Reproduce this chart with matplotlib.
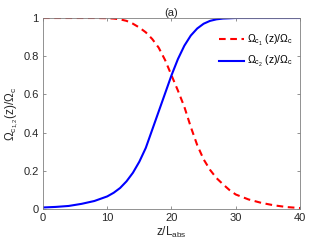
import numpy as np
import matplotlib
matplotlib.use('Agg')
import matplotlib.pyplot as plt

plt.rcParams['font.family'] = ['Liberation Sans', 'DejaVu Sans']
plt.rcParams['mathtext.fontset'] = 'custom'
plt.rcParams['mathtext.rm'] = 'Liberation Sans'
plt.rcParams['mathtext.it'] = 'Liberation Sans'

# Значения
z_c1 = [0, 8, 10, 11, 12, 13, 14, 15, 16, 17, 18, 19, 20, 21, 22, 23, 24,
        25, 26, 27, 28, 29, 30, 32, 34, 36, 38, 40]
omega_c1 = [1.0, 1.0, 0.999, 0.997, 0.993, 0.985, 0.97, 0.95, 0.925, 0.89,
            0.845, 0.78, 0.70, 0.62, 0.535, 0.43, 0.335, 0.26, 0.205, 0.162,
            0.13, 0.10, 0.076, 0.05, 0.032, 0.019, 0.01, 0.005]

z_c2 = [0, 2, 4, 6, 8, 10, 11, 12, 13, 14, 15, 16, 17, 18, 19, 20, 21, 22,
        23, 24, 25, 26, 27, 28, 30, 35, 40]
omega_c2 = [0.008, 0.011, 0.016, 0.027, 0.042, 0.066, 0.085, 0.11, 0.145,
            0.19, 0.248, 0.32, 0.415, 0.51, 0.605, 0.70, 0.785, 0.855, 0.908,
            0.945, 0.97, 0.985, 0.993, 0.997, 1.0, 1.0, 1.0]

x_ticks = [0, 10, 20, 30, 40]
y_ticks = [0, 0.2, 0.4, 0.6, 0.8, 1]
y_tick_labels = ['0', '0.2', '0.4', '0.6', '0.8', '1']

fig = plt.figure(figsize=(3.32, 2.49), dpi=100)
ax = fig.add_axes([0.1295, 0.1606, 0.7741, 0.7671])

ax.plot(z_c1, omega_c1, color='#ff0000', linestyle=(0, (3.2, 2.2)),
        linewidth=1.5, label=r'$\Omega_{c_1}$ (z)/$\Omega_c$')
ax.plot(z_c2, omega_c2, color='#0000ff', linestyle='-',
        linewidth=1.5, label=r'$\Omega_{c_2}$ (z)/$\Omega_c$')

ax.set_xlim(0, 40)
ax.set_ylim(0, 1)
ax.set_xticks(x_ticks)
ax.set_yticks(y_ticks)
ax.set_yticklabels(y_tick_labels)

for s in ax.spines.values():
    s.set_color('#808080')
    s.set_linewidth(0.6)
ax.tick_params(direction='in', top=True, right=True, length=2.5, width=0.6,
               color='#808080', labelsize=8, labelcolor='#262626', pad=3)

ax.set_xlabel(r'z/L$_{\mathrm{abs}}$', fontsize=8.5, color='#262626', labelpad=1)
ax.set_ylabel(r'$\Omega_{c_{1,2}}$(z)/$\Omega_c$', fontsize=8.5, color='#262626',
              labelpad=2)
ax.set_title('(a)', fontsize=8, color='#262626', pad=1.5)

ax.legend(loc='upper right', frameon=False, fontsize=7.5, handlelength=2.4,
          handletextpad=0.3, borderaxespad=0.3, labelspacing=0.6,
          bbox_to_anchor=(1.0, 0.96))

fig.savefig('out.png', dpi=100)
